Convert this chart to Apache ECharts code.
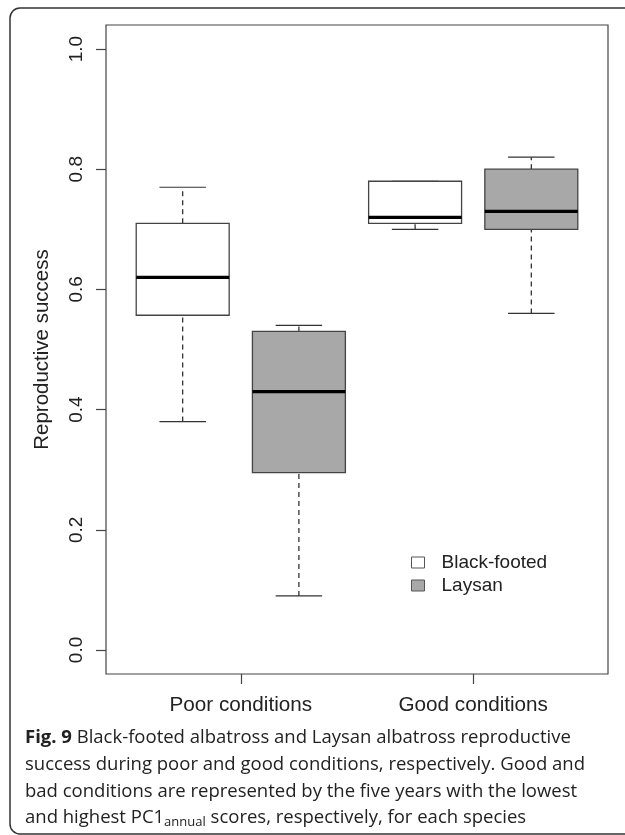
<!DOCTYPE html>
<html>
<head>
<meta charset="utf-8">
<script src="https://cdn.jsdelivr.net/npm/echarts@6/dist/echarts.min.js"></script>
<style>
html,body{margin:0;padding:0;background:#fff;}
#chart{width:625px;height:835px;}
</style>
</head>
<body>
<div id="chart"></div>
<script>
// ---- data ----
var categories = ['Poor conditions', 'Good conditions'];
var species = ['Black-footed', 'Laysan'];
// [min, q1, median, q3, max] per condition
var blackFooted = [[0.38, 0.557, 0.62, 0.71, 0.77], [0.70, 0.71, 0.72, 0.78, 0.78]];
var laysan = [[0.09, 0.295, 0.43, 0.53, 0.54], [0.56, 0.70, 0.73, 0.80, 0.82]];
var yTicks = [0, 0.2, 0.4, 0.6, 0.8, 1.0];
var captionLines = [
  '{b|Fig. 9} Black-footed albatross and Laysan albatross reproductive',
  'success during poor and good conditions, respectively. Good and',
  'bad conditions are represented by the five years with the lowest',
  'and highest PC1{sub|annual} scores, respectively, for each species'
];

var fills = ['#ffffff', '#a8a8a8'];
var seriesData = [blackFooted, laysan];
var groupCenters = categories.map(function (c, i) { return i * 2 + 1.5; });

function renderBox(params, api) {
  var x = api.value(0);
  var mn = api.value(1), q1 = api.value(2), md = api.value(3), q3 = api.value(4), mx = api.value(5);
  var bw = api.size([0.8, 0])[0];
  var pMin = api.coord([x, mn]), pQ1 = api.coord([x, q1]), pMd = api.coord([x, md]);
  var pQ3 = api.coord([x, q3]), pMax = api.coord([x, mx]);
  var cx = pMin[0];
  var fill = fills[params.seriesIndex];
  var border = '#444';
  var dash = [5, 4];
  return {
    type: 'group',
    children: [
      { type: 'line', shape: { x1: cx, y1: pQ3[1], x2: cx, y2: pMax[1] }, style: { stroke: '#222', lineWidth: 1.2, lineDash: dash } },
      { type: 'line', shape: { x1: cx, y1: pMin[1], x2: cx, y2: pQ1[1] }, style: { stroke: '#222', lineWidth: 1.2, lineDash: dash } },
      { type: 'line', shape: { x1: cx - bw / 4, y1: pMax[1], x2: cx + bw / 4, y2: pMax[1] }, style: { stroke: '#333', lineWidth: 1.2 } },
      { type: 'line', shape: { x1: cx - bw / 4, y1: pMin[1], x2: cx + bw / 4, y2: pMin[1] }, style: { stroke: '#333', lineWidth: 1.2 } },
      { type: 'rect', shape: { x: cx - bw / 2, y: pQ3[1], width: bw, height: pQ1[1] - pQ3[1] }, style: { fill: fill, stroke: border, lineWidth: 1.3 } },
      { type: 'line', shape: { x1: cx - bw / 2, y1: pMd[1], x2: cx + bw / 2, y2: pMd[1] }, style: { stroke: '#000', lineWidth: 3.2 } }
    ]
  };
}

var series = species.map(function (name, si) {
  return {
    name: name,
    type: 'custom',
    renderItem: renderBox,
    itemStyle: { color: fills[si], borderColor: '#555', borderWidth: 1 },
    encode: { x: 0, y: [1, 2, 3, 4, 5] },
    data: seriesData[si].map(function (v, gi) {
      return [gi * 2 + si + 1].concat(v);
    }),
    z: 3
  };
});

var chart = echarts.init(document.getElementById('chart'), null, { renderer: 'canvas' });
var axisFont = 'Liberation Sans, Arial, sans-serif';
var capFont = 'Open Sans, sans-serif';
chart.setOption({
  backgroundColor: '#ffffff',
  animation: false,
  grid: { left: 106, right: 17, top: 25, bottom: 161, show: true, borderColor: '#444', borderWidth: 1.2, backgroundColor: 'transparent' },
  xAxis: {
    type: 'value', min: 0.34, max: 4.66,
    splitLine: { show: false },
    axisLine: { show: false, onZero: false },
    axisTick: { show: true, length: 10, lineStyle: { color: '#444', width: 1.2 }, customValues: groupCenters },
    axisLabel: {
      customValues: groupCenters, margin: 21, fontSize: 20.7, fontFamily: axisFont, color: '#222',
      formatter: function (v) { var i = Math.round((v - 1.5) / 2); return categories[i] || ''; }
    }
  },
  yAxis: {
    type: 'value', min: -0.04, max: 1.04,
    name: 'Reproductive success', nameLocation: 'middle', nameGap: 53, nameRotate: 90,
    nameTextStyle: { fontSize: 20.5, fontFamily: axisFont, color: '#222' },
    splitLine: { show: false },
    axisLine: { show: false, onZero: false },
    axisTick: { show: true, length: 10, lineStyle: { color: '#444', width: 1.2 }, customValues: yTicks },
    axisLabel: {
      customValues: yTicks, rotate: 90, margin: 20, fontSize: 19, fontFamily: axisFont, color: '#222',
      formatter: function (v) { return v.toFixed(1); }
    }
  },
  legend: {
    orient: 'vertical', left: 411, top: 553, padding: 0, itemWidth: 13, itemHeight: 11, itemGap: 4,
    icon: 'rect',
    textStyle: { fontSize: 19, fontFamily: axisFont, color: '#222', padding: [0, 0, 0, 12] },
    data: [
      { name: 'Black-footed', icon: 'rect', itemStyle: { color: '#ffffff', borderColor: '#555', borderWidth: 1 } },
      { name: 'Laysan', icon: 'rect', itemStyle: { color: '#a8a8a8', borderColor: '#555', borderWidth: 1 } }
    ],
    selectedMode: false
  },
  graphic: [
    { type: 'rect', shape: { x: 10, y: 8, width: 640, height: 826, r: 10 }, style: { fill: 'none', stroke: '#333', lineWidth: 1.5 }, silent: true, z: 0 }
  ].concat(captionLines.map(function (t, i) {
    return {
      type: 'text', x: 25, y: 738 + i * 26.7, silent: true,
      style: {
        text: t, fontSize: 18.5, fontFamily: capFont, fill: '#222', verticalAlign: 'middle',
        rich: {
          b: { fontSize: 18.5, fontWeight: 'bold', fontFamily: capFont, fill: '#222' },
          sub: { fontSize: 13, fontFamily: capFont, fill: '#222', padding: [9, 0, 0, 0] }
        }
      }
    };
  })),
  series: series
});
</script>
</body>
</html>
